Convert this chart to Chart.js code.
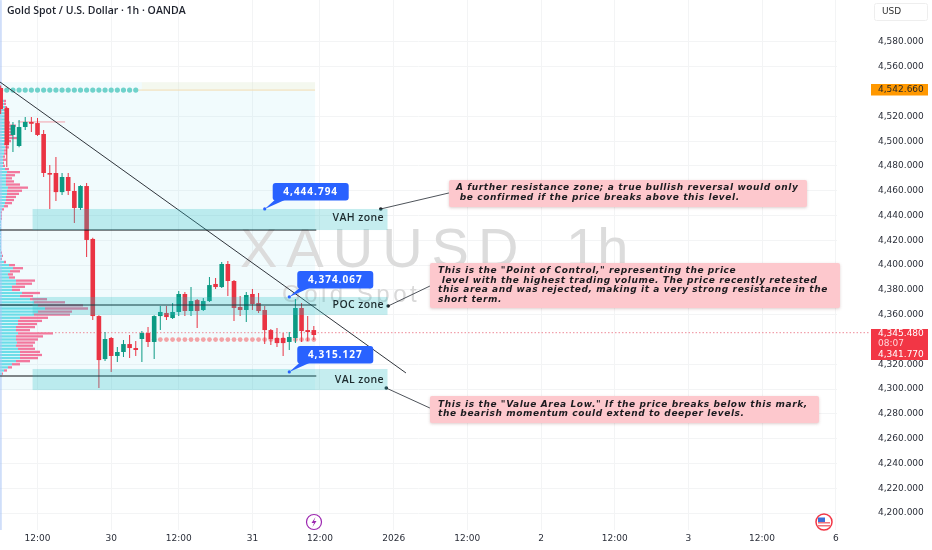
<!DOCTYPE html>
<html>
<head>
<meta charset="utf-8">
<title>XAUUSD 1h</title>
<script src="https://cdn.jsdelivr.net/npm/chart.js@4"></script>
<style>
  html, body { margin: 0; padding: 0; background: #fff; overflow: hidden; }
  canvas { display: block; }
</style>
</head>
<body>
<canvas id="chart" width="932" height="550"></canvas>
<script>
// ── Candles: one entry per hour bar ─────────────────────────
const barIndex = [-6,-5,-4,-3,-2,-1,0,1,2,3,4,5,6,7,8,9,10,11,12,13,14,15,16,17,18,19,20,21,22,23,24,25,26,27,28,29,30,31,32,33,34,35,36,37,38,39,40,41,42,43,44,45];
const opens  = [4542.9,4526.7,4505.0,4496.1,4511.4,4515.5,4514.6,4505.8,4474.3,4474.3,4458.9,4471.1,4459.8,4446.1,4463.8,4421.1,4358.9,4324.2,4341.2,4326.7,4329.9,4336.3,4333.1,4340.4,4345.2,4338.0,4358.9,4361.4,4357.3,4362.2,4376.7,4363.0,4371.8,4363.8,4371.0,4384.8,4382.3,4400.9,4387.2,4366.2,4363.8,4376.7,4369.4,4363.8,4347.6,4341.2,4341.2,4338.0,4341.2,4365.4,4347.6,4347.6];
const closes = [4525.9,4496.9,4513.0,4511.4,4515.5,4514.0,4505.0,4474.3,4473.0,4458.9,4471.1,4459.8,4446.1,4463.8,4420.3,4358.9,4323.4,4340.4,4326.7,4329.9,4336.3,4333.1,4331.5,4345.2,4338.0,4358.9,4362.2,4358.1,4362.2,4376.7,4363.0,4371.0,4363.0,4371.0,4383.9,4382.3,4400.9,4387.2,4365.4,4363.8,4375.9,4368.6,4363.0,4347.6,4340.4,4337.1,4337.1,4342.0,4365.4,4346.8,4346.0,4343.6];
const highs  = [4545.0,4527.5,4515.5,4517.1,4519.5,4519.5,4518.7,4509.0,4480.8,4487.2,4474.3,4474.3,4466.2,4464.5,4466.2,4422.0,4359.5,4346.0,4342.0,4333.9,4339.6,4343.6,4338.8,4346.8,4350.1,4359.5,4367.0,4367.0,4369.4,4379.1,4378.3,4382.3,4372.6,4373.4,4390.4,4389.6,4402.5,4403.3,4388.0,4375.1,4378.3,4380.7,4377.5,4367.0,4348.5,4349.3,4345.2,4346.0,4372.6,4369.4,4358.9,4350.9];
const lows   = [4522.0,4479.1,4491.3,4495.0,4509.0,4507.4,4504.2,4471.1,4445.3,4451.7,4456.5,4456.5,4433.9,4444.5,4406.5,4355.7,4300.8,4322.6,4313.8,4321.8,4325.9,4325.0,4326.7,4321.8,4333.9,4324.2,4347.6,4355.7,4356.5,4358.9,4358.9,4358.9,4349.3,4363.0,4370.2,4380.7,4381.5,4375.1,4354.9,4358.9,4354.1,4363.8,4361.4,4336.3,4335.5,4333.9,4326.7,4331.5,4337.1,4338.0,4338.8,4339.6];

// ── Volume profile, left edge: price row, total width, buy part ─
const vpPrices = [4532.5,4530,4527.5,4525,4522.5,4520,4517.5,4515,4512.5,4510,4507.5,4505,4502.5,4500,4497.5,4495,4492.5,4490,4487.5,4485,4482.5,4480,4477.5,4475,4472.5,4470,4467.5,4465,4462.5,4460,4457.5,4455,4452.5,4450,4447.5,4445,4442.5,4440,4437.5,4435,4432.5,4430,4427.5,4425,4422.5,4420,4417.5,4415,4412.5,4410,4407.5,4405,4402.5,4400,4397.5,4395,4392.5,4390,4387.5,4385,4382.5,4380,4377.5,4375,4372.5,4370,4367.5,4365,4362.5,4360,4357.5,4355,4352.5,4350,4347.5,4345,4342.5,4340,4337.5,4335,4332.5,4330,4327.5,4325,4322.5,4320,4317.5,4315,4312.5];
const vpTotal  = [6,6,7,6,7,7,8,10,16,12,15,13,17,11,9,9,7,7,5,6,4,5,9,20,15,12,14,20,28,22,19,16,14,12,8,4,2,2,2,1,1,1,1,1,1,1,1,1,1,2,3,2,6,15,23,20,13,15,35,32,25,20,40,33,47,65,83,88,72,70,48,42,37,35,30,53,43,38,35,33,35,40,42,38,30,20,12,7,3];
const vpBuy    = [4,4,5,4,5,5,5,6,7,6,6,6,7,5,4,5,4,4,3,3,3,3,5,7,6,6,6,6,8,7,7,6,6,5,4,2,1,1,1,1,1,1,1,1,1,1,1,1,1,1,2,1,4,9,13,10,8,9,16,16,12,12,22,20,30,34,38,45,38,34,20,18,18,16,16,18,16,16,17,16,18,20,20,20,16,12,8,4,2];

// ── Levels ──────────────────────────────────────────────────
const tickBars   = [0,12,23,35,46,58,70,82,94,106,118,130];
const tickLabels = ['12:00','30','12:00','31','12:00','2026','12:00','2','12:00','3','12:00','6'];
const priceTicks = [4580,4560,4540,4520,4500,4480,4460,4440,4420,4400,4380,4360,4340,4320,4300,4280,4260,4240,4220,4200];
const priceLabels= ['4,580.000','4,560.000',null,'4,520.000','4,500.000','4,480.000','4,460.000','4,440.000','4,420.000','4,400.000','4,380.000','4,360.000',null,'4,320.000','4,300.000','4,280.000','4,260.000','4,240.000','4,220.000','4,200.000'];

const zoneNames  = ['VAH zone','POC zone','VAL zone'];
const zoneHigh   = [4445.3,4374.3,4316.2];
const zoneLow    = [4428.3,4359.8,4299.2];
const zoneLines  = [4428.3,4367.8,4310.5];
const calloutVal = ['4,444.794','4,374.067','4,315.127'];
const calloutBar = [37.0,41.0,41.0];
const calloutAt  = [4445.3,4374.3,4313.8];
const linkFromBar= [55.9,57.1,56.8];
const linkFromVal= [4445.3,4367.0,4300.8];
const linkToBar  = [67.0,63.9,63.9];
const linkToVal  = [4458.2,4383.1,4284.7];

const topDotBars = [-6,-5,-4,-3,-2,-1,0,1,2,3,4,5,6,7,8,9,10,11,12,13,14,15,16];
const midDotBars = [19,20,21,22,23,24,25,26,27,28,29,30,31,32,33,34,35,36,37,38,39,40,41,42,43,44,45];
const topDotPrice = 4541.2, midDotPrice = 4339.9, lastPrice = 4345.48;
const trendBars  = [-6.1,60.0];
const trendVals  = [4547.7,4313.0];
const pinkLineBars = [-3.2,4.5];
const pinkLinePrice = 4515.5;

const notes = [
  ['A further resistance zone; a true bullish reversal would only',' be confirmed if the price breaks above this level.'],
  ['This is the "Point of Control," representing the price',' level with the highest trading volume. The price recently retested','this area and was rejected, making it a very strong resistance in the','short term.'],
  ['This is the "Value Area Low." If the price breaks below this mark,','the bearish momentum could extend to deeper levels.']
];

// ── Colours ─────────────────────────────────────────────────
const RED = '#ea3343', GREEN = '#0b9a83', UI = 'DejaVu Sans';
const barColors = opens.map((o, i) => closes[i] < o ? RED : GREEN);

// ── Helpers ─────────────────────────────────────────────────
function roundBox(ctx, x, y, w, h, r) {
  ctx.beginPath();
  ctx.roundRect(x, y, w, h, r);
}
function segment(xs, ys, color, width, extra) {
  return Object.assign({
    type: 'line',
    data: xs.map((x, i) => ({ x, y: ys[i] })),
    borderColor: color, borderWidth: width,
    pointRadius: 0, tension: 0, fill: false, order: 2
  }, extra || {});
}
// tick padding would otherwise leak into the chart area margins
function noPadding(s) {
  s.paddingTop = s.paddingBottom = s.paddingLeft = s.paddingRight = 0;
}

// ── Everything around the marks ─────────────────────────────
const backdrop = {
  id: 'backdrop',
  beforeDatasetsDraw(chart) {
    const { ctx, scales: { x, y } } = chart;
    const x0 = x.getPixelForValue(-6.1), x1 = x.getPixelForValue(45.2);
    ctx.save();
    // profile wash
    ctx.fillStyle = 'rgba(120,220,240,0.10)';
    ctx.fillRect(x0, y.getPixelForValue(4547.6), x1 - x0, y.getPixelForValue(4299.2) - y.getPixelForValue(4547.6));
    ctx.fillStyle = 'rgba(255,235,190,0.22)';
    ctx.fillRect(x.getPixelForValue(17), y.getPixelForValue(4547.6), x1 - x.getPixelForValue(17), y.getPixelForValue(topDotPrice) - y.getPixelForValue(4547.6));
    // watermark
    ctx.fillStyle = '#dcdcdc';
    ctx.textBaseline = 'alphabetic';
    ctx.textAlign = 'left';
    ctx.font = '56px "Liberation Sans"';
    ctx.letterSpacing = '9px';
    ctx.fillText('XAUUSD', 240, 267);
    ctx.letterSpacing = '0px';
    ctx.fillText('1h', 566, 267);
    ctx.font = '24px "Liberation Sans"';
    ctx.letterSpacing = '3.5px';
    ctx.fillStyle = '#d9d9d9';
    ctx.fillText('Gold Spot / U.S. Dollar', 282, 302);
    ctx.restore();
  },
  afterDatasetsDraw(chart) {
    const { ctx, scales: { x, y } } = chart;
    ctx.save();

    // zones on top of the candles
    ctx.fillStyle = 'rgba(40,190,195,0.27)';
    const zl = x.getPixelForValue(-0.8), zr = x.getPixelForValue(57);
    zoneHigh.forEach((v, i) => {
      const t = y.getPixelForValue(v);
      ctx.fillRect(zl, t, zr - zl, y.getPixelForValue(zoneLow[i]) - t);
    });
    // zone names
    ctx.fillStyle = '#1d2b2e';
    ctx.font = '600 10.5px "Open Sans"';
    ctx.textAlign = 'right';
    ctx.textBaseline = 'middle';
    ctx.letterSpacing = '0.4px';
    zoneNames.forEach((n, i) => {
      ctx.fillText(n, 384, (y.getPixelForValue(zoneHigh[i]) + y.getPixelForValue(zoneLow[i])) / 2 + (i === 2 ? 0 : -1));
    });

    // blue callouts
    calloutVal.forEach((t, i) => {
      const ax = x.getPixelForValue(calloutBar[i]), ay = y.getPixelForValue(calloutAt[i]);
      const bx = ax + 8, by = ay - 26;
      ctx.fillStyle = '#2962ff';
      ctx.beginPath();
      ctx.moveTo(ax, ay);
      ctx.lineTo(bx + 2, by + 17);
      ctx.lineTo(bx + 12, by + 17);
      ctx.closePath();
      ctx.fill();
      roundBox(ctx, bx, by, 76, 17.5, 3);
      ctx.fill();
      ctx.beginPath();
      ctx.arc(ax, ay, 1.6, 0, Math.PI * 2);
      ctx.fill();
      ctx.fillStyle = '#fff';
      ctx.textAlign = 'center';
      ctx.font = 'bold 10px "Open Sans"';
      ctx.letterSpacing = '1px';
      ctx.fillText(t, bx + 38, by + 9);
    });

    // pink notes
    const boxes = [[449,180,358,27,456,188],[430,263,410,45,438,271],[430,396,389,27,438,404.5]];
    notes.forEach((lines, n) => {
      const [bx, by, bw, bh, tx, ty] = boxes[n];
      ctx.save();
      ctx.shadowColor = 'rgba(120,60,60,0.25)';
      ctx.shadowBlur = 3;
      ctx.shadowOffsetY = 1;
      ctx.fillStyle = '#fdc8cd';
      roundBox(ctx, bx, by, bw, bh, 2);
      ctx.fill();
      ctx.restore();
      ctx.fillStyle = '#1b1b1f';
      ctx.textAlign = 'left';
      ctx.font = 'italic bold 9px "DejaVu Sans"';
      ctx.letterSpacing = '0.6px';
      lines.forEach((l, k) => ctx.fillText(l, tx, ty + k * 9.45));
    });

    // header
    ctx.letterSpacing = '0px';
    ctx.fillStyle = '#1e222d';
    ctx.font = '600 10.5px "Open Sans"';
    ctx.fillText('Gold Spot / U.S. Dollar \u00b7 1h \u00b7 OANDA', 7, 11);

    // currency button
    ctx.strokeStyle = '#eeeeee';
    roundBox(ctx, 874.5, 3.5, 53, 17, 2);
    ctx.stroke();
    ctx.fillStyle = '#333';
    ctx.font = '9px "DejaVu Sans"';
    ctx.fillText('USD', 882, 12);

    // price tags
    ctx.fillStyle = '#ff9800';
    ctx.fillRect(871, 84, 57, 11.5);
    ctx.fillStyle = '#2a2a2a';
    ctx.fillText('4,542.660', 878, 90);
    ctx.fillStyle = '#f23645';
    ctx.fillRect(871, 329, 57, 31);
    ctx.fillStyle = '#fff';
    ctx.fillText('4,345.480', 878, 334);
    ctx.fillStyle = '#ffd5d8';
    ctx.fillText('08:07', 878, 344);
    ctx.fillStyle = '#fff';
    ctx.fillText('4,341.770', 878, 354.5);

    // event icons on the time axis
    ctx.strokeStyle = '#9c27b0';
    ctx.lineWidth = 1.2;
    ctx.beginPath();
    ctx.arc(314, 522, 7.5, 0, Math.PI * 2);
    ctx.fillStyle = '#fff';
    ctx.fill();
    ctx.stroke();
    ctx.fillStyle = '#9c27b0';
    ctx.beginPath();
    ctx.moveTo(315.5, 517);
    ctx.lineTo(311.5, 523);
    ctx.lineTo(314, 523);
    ctx.lineTo(312.5, 527);
    ctx.lineTo(316.5, 521);
    ctx.lineTo(314, 521);
    ctx.closePath();
    ctx.fill();

    ctx.strokeStyle = '#f23645';
    ctx.lineWidth = 1.5;
    ctx.beginPath();
    ctx.arc(824, 522, 8, 0, Math.PI * 2);
    ctx.fillStyle = '#fff';
    ctx.fill();
    ctx.stroke();
    ctx.fillStyle = '#f0737d';
    ctx.fillRect(818, 522, 12, 1.5);
    ctx.fillRect(818, 525, 12, 1.5);
    ctx.fillStyle = '#3b6fd8';
    ctx.fillRect(818, 517.5, 7, 4.5);

    ctx.restore();
  }
};

// ── Chart ───────────────────────────────────────────────────
const datasets = [
  // volume profile: own hidden axes, 1 unit = 1 px of width
  { type:'bar', indexAxis:'y', xAxisID:'xVol', yAxisID:'yVol', grouped:false, order:9,
    data: vpPrices.map((p, i) => ({ y: p, x: [0, vpBuy[i]] })),
    backgroundColor:'rgba(85,215,228,0.85)', maxBarThickness:2.3, barPercentage:0.95, categoryPercentage:1 },
  { type:'bar', indexAxis:'y', xAxisID:'xVol', yAxisID:'yVol', grouped:false, order:9,
    data: vpPrices.map((p, i) => ({ y: p, x: [vpBuy[i], vpTotal[i]] })),
    backgroundColor:'rgba(242,95,140,0.85)', maxBarThickness:2.3, barPercentage:0.95, categoryPercentage:1 },

  // dot rows
  { type:'line', showLine:false, order:8, data: topDotBars.map(b => ({ x:b, y:topDotPrice })),
    pointRadius:2.6, pointBackgroundColor:'#6fd2cb', pointBorderWidth:0 },
  { type:'line', showLine:false, order:8, data: midDotBars.map(b => ({ x:b, y:midDotPrice })),
    pointRadius:2.4, pointBackgroundColor:'#f3a3a6', pointBorderWidth:0 },
  segment([16, 45.2], [topDotPrice, topDotPrice], '#f3dcb4', 1, { order:8 }),
  segment(pinkLineBars, [pinkLinePrice, pinkLinePrice], '#f2a0ac', 1, { order:8 }),
  segment([0, 135.5], [lastPrice, lastPrice], '#ee8b98', 1, { borderDash:[1.5,2], clip:false, order:7 }),
  segment([-5.95, -5.95], [4186.3, 4613.8], '#a9c4f5', 1, { order:7 }),

  // candles
  { type:'bar', grouped:false, order:5, data: barIndex.map((b, i) => ({ x:b, y:[lows[i], highs[i]] })),
    backgroundColor: barColors, maxBarThickness:1, barPercentage:0.95, categoryPercentage:1 },
  { type:'bar', grouped:false, order:4, minBarLength:1, data: barIndex.map((b, i) => ({ x:b, y:[opens[i], closes[i]] })),
    backgroundColor: barColors, maxBarThickness:4.6, barPercentage:0.95, categoryPercentage:1 },

  // level lines, trend line, links to the notes
  ...zoneLines.map(v => segment([-6.1, 45.4], [v, v], '#0c0f12', 1.1)),
  segment(trendBars, trendVals, '#2f343b', 1),
  ...linkFromBar.map((b, i) => segment([b, linkToBar[i]], [linkFromVal[i], linkToVal[i]], '#3a3f47', 0.9, {
    pointRadius:[1.8,0], pointBackgroundColor:'#20242a', pointBorderWidth:0, order:1
  }))
];

new Chart(document.getElementById('chart'), {
  data: { datasets },
  plugins: [backdrop],
  options: {
    responsive: false,
    animation: false,
    layout: { padding: 0, autoPadding: false },
    plugins: { legend: { display:false }, tooltip: { enabled:false } },
    scales: {
      x: {
        type:'linear', min:-6.107, max:130.2, offset:false,
        afterFit(s) { s.height = 20; noPadding(s); },
        afterBuildTicks(s) { s.ticks = tickBars.map(v => ({ value:v })); },
        grid: { color:'#f3f4f5', drawTicks:false, offset:false },
        border: { display:false },
        ticks: {
          autoSkip:false, maxRotation:0, padding:3, color:'#2a2e39',
          font: { family:UI, size:9 },
          callback: v => tickLabels[tickBars.indexOf(v)]
        }
      },
      y: {
        type:'linear', position:'right', min:4186.3, max:4613.88, offset:false,
        afterFit(s) { s.width = 95; noPadding(s); },
        afterBuildTicks(s) { s.ticks = priceTicks.map(v => ({ value:v })); },
        grid: { color:'#f3f4f5', drawTicks:false, offset:false },
        border: { display:false },
        ticks: {
          autoSkip:false, padding:41, color:'#2a2e39',
          font: { family:UI, size:9 },
          callback: v => priceLabels[priceTicks.indexOf(v)]
        }
      },
      xVol: { type:'linear', display:false, min:0, max:837, offset:false },
      yVol: { type:'linear', display:false, min:4186.3, max:4613.88, offset:false }
    }
  }
});
</script>
</body>
</html>
